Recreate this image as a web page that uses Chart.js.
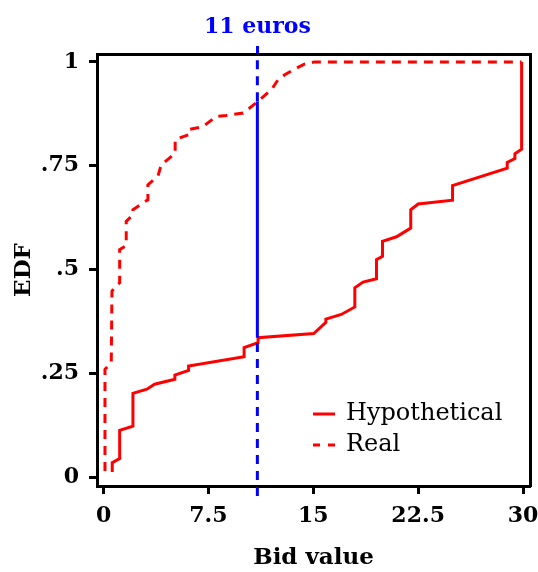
<!DOCTYPE html>
<html>
<head>
<meta charset="utf-8">
<script src="https://cdn.jsdelivr.net/npm/chart.js@4.4.1/dist/chart.umd.min.js"></script>
<style>
  html, body { margin: 0; padding: 0; background: #fff; }
</style>
</head>
<body>
<canvas id="edfChart" width="538" height="572"></canvas>
<script>
// EDF of bids: hypothetical vs real

const hypoX = [0.62, 0.62, 1.15, 1.15, 2.1, 2.1, 3.1, 3.65, 5.1, 5.1, 6.08, 6.08, 10.05, 10.05, 11.05, 11.05,
               15.03, 15.9, 15.9, 17.0, 17.97, 17.97, 18.56, 19.52, 19.52, 19.95, 19.95, 20.95, 21.97, 21.97,
               22.5, 24.96, 24.96, 28.87, 28.87, 29.42, 29.42, 29.9, 29.9];
const hypoY = [0.013, 0.035, 0.045, 0.113, 0.123, 0.202, 0.212, 0.224, 0.236, 0.246, 0.257, 0.268, 0.290, 0.312, 0.324, 0.336,
               0.346, 0.373, 0.381, 0.392, 0.41, 0.456, 0.47, 0.478, 0.524, 0.532, 0.568, 0.579, 0.600, 0.644,
               0.658, 0.667, 0.702, 0.744, 0.758, 0.767, 0.779, 0.790, 1.0];

const realX = [0.1, 0.1, 0.55, 0.6, 0.85, 1.15, 1.15, 1.62, 1.62, 2.1, 2.1, 2.7, 3.17, 3.17, 3.9, 4.12, 5.12, 5.12,
               6.1, 6.1, 7.1, 8.06, 8.78, 9.98, 10.45, 11.05, 12.0, 12.48, 12.96, 13.8, 14.4, 15.1, 29.9];
const realY = [0.015, 0.26, 0.276, 0.448, 0.46, 0.468, 0.548, 0.558, 0.616, 0.632, 0.644, 0.658, 0.668, 0.704, 0.726, 0.752, 0.78, 0.813,
               0.825, 0.837, 0.844, 0.869, 0.871, 0.877, 0.889, 0.905, 0.933, 0.957, 0.969, 0.985, 0.995, 1.0, 1.0];

const markX = 11;
const markLabel = '11 euros';
const markY = [-0.045, 0.336, 0.905, 1.019];

const xTicks = [0, 7.5, 15, 22.5, 30];
const yTicks = [0, 0.25, 0.5, 0.75, 1];
const yTickLabels = ['0', '.25', '.5', '.75', '1'];

const serif = "'DejaVu Serif', serif";
const frame = { display: true, width: 3, color: '#000' };
const tickMarks = { display: true, drawOnChartArea: false, drawTicks: true, tickLength: 8, tickWidth: 3, tickColor: '#000' };

const toPoints = (xs, ys) => xs.map((x, i) => ({ x: x, y: ys[i] }));

// keep the plot box fixed, labels may hang over the edges
const fixHeight = h => a => { a.height = h; a.paddingLeft = 0; a.paddingRight = 0; };
const fixWidth = w => a => { a.width = w; a.paddingTop = 0; a.paddingBottom = 0; };

// legend drawn inside the plot, bottom right
const legendBox = {
    id: 'legendBox',
    afterDatasetsDraw(chart) {
        const { ctx, chartArea } = chart;
        const items = chart.data.datasets.filter(d => d.inLegend);
        ctx.save();
        ctx.font = '24px ' + serif;
        ctx.textBaseline = 'middle';
        items.forEach((d, i) => {
            const y = chartArea.bottom - 72 + i * 31;
            const x = chartArea.right - 217;
            ctx.strokeStyle = d.borderColor;
            ctx.lineWidth = 3;
            ctx.setLineDash(d.legendDash || []);
            ctx.beginPath();
            ctx.moveTo(x, y);
            ctx.lineTo(x + 22, y);
            ctx.stroke();
            ctx.setLineDash([]);
            ctx.fillStyle = '#000';
            ctx.fillText(d.label, x + 33, y);
        });
        ctx.restore();
    }
};

new Chart(document.getElementById('edfChart'), {
    type: 'line',
    data: {
        datasets: [
            {
                label: 'marker',
                data: toPoints(markY.map(() => markX), markY),
                borderColor: '#0000ff',
                borderWidth: 3,
                pointRadius: 0,
                clip: false,
                order: 0,
                segment: {
                    borderDash: c => c.p0DataIndex === 1 ? [] : [9, 7]
                }
            },
            {
                label: 'Hypothetical',
                inLegend: true,
                data: toPoints(hypoX, hypoY),
                borderColor: '#ff0000',
                borderWidth: 3,
                pointRadius: 0,
                order: 1
            },
            {
                label: 'Real',
                inLegend: true,
                legendDash: [7, 8],
                data: toPoints(realX, realY),
                borderColor: '#ff0000',
                borderWidth: 3,
                borderDash: [9, 7],
                pointRadius: 0,
                order: 2
            }
        ]
    },
    options: {
        responsive: false,
        animation: false,
        layout: { padding: 0 },
        plugins: {
            legend: { display: false },
            tooltip: { enabled: false }
        },
        scales: {
            x: {
                type: 'linear',
                position: 'bottom',
                min: -0.47,
                max: 30.5,
                afterBuildTicks: a => { a.ticks = xTicks.map(v => ({ value: v })); },
                ticks: {
                    callback: v => String(v),
                    font: { family: serif, size: 22, weight: 'bold' },
                    color: '#000',
                    padding: 9,
                    maxRotation: 0,
                    autoSkip: false
                },
                grid: tickMarks,
                border: frame,
                title: {
                    display: true,
                    text: 'Bid value',
                    font: { family: serif, size: 23, weight: 'bold' },
                    color: '#000',
                    padding: { top: 10, bottom: 0 }
                },
                afterFit: fixHeight(86)
            },
            x2: {
                type: 'linear',
                position: 'top',
                min: -0.47,
                max: 30.5,
                afterBuildTicks: a => { a.ticks = [{ value: markX }]; },
                ticks: {
                    callback: () => markLabel,
                    font: { family: serif, size: 22, weight: 'bold' },
                    color: '#0000ff',
                    padding: 6,
                    maxRotation: 0
                },
                grid: Object.assign({}, tickMarks, { tickColor: '#0000ff' }),
                border: frame,
                afterFit: fixHeight(54)
            },
            y: {
                type: 'linear',
                position: 'left',
                min: -0.021,
                max: 1.019,
                afterBuildTicks: a => { a.ticks = yTicks.map(v => ({ value: v })); },
                ticks: {
                    callback: v => yTickLabels[yTicks.indexOf(v)],
                    font: { family: serif, size: 22, weight: 'bold' },
                    color: '#000',
                    padding: 10
                },
                grid: tickMarks,
                border: frame,
                title: {
                    display: true,
                    text: 'EDF',
                    font: { family: serif, size: 23, weight: 'bold' },
                    color: '#000',
                    padding: { top: 10, bottom: 0 }
                },
                afterFit: fixWidth(97)
            },
            y2: {
                type: 'linear',
                position: 'right',
                min: -0.021,
                max: 1.019,
                ticks: { display: false },
                grid: { display: false },
                border: frame,
                afterFit: fixWidth(8)
            }
        }
    },
    plugins: [legendBox]
});
</script>
</body>
</html>
